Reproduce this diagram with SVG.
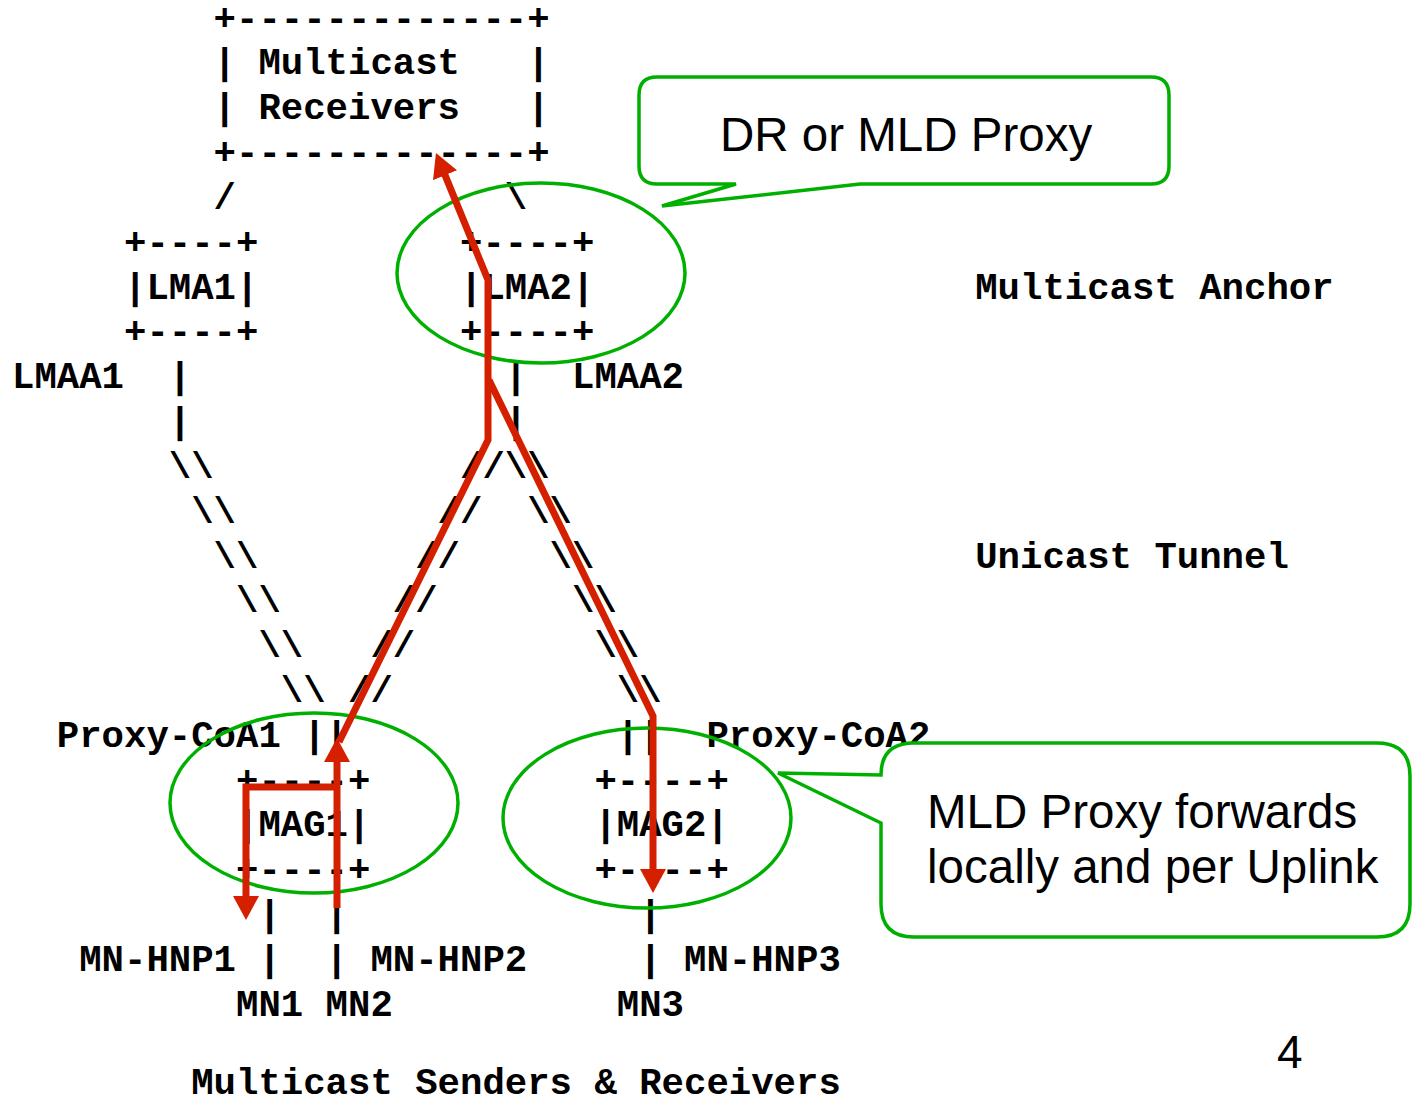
<svg xmlns="http://www.w3.org/2000/svg" width="1418" height="1105" viewBox="0 0 1418 1105" xml:space="preserve">
<style>
.t { font-family: "Liberation Mono", "Courier New", monospace; font-weight: bold; font-size: 37.33px; fill: #000; white-space: pre; }
.s { font-family: "Liberation Mono", "Courier New", monospace; font-weight: bold; font-size: 37.33px; fill: #000; white-space: pre; }
.c { font-family: "Liberation Sans", Arial, sans-serif; font-size: 47.5px; fill: #000; }
.red { fill: none; stroke: #d52000; stroke-width: 7; stroke-linejoin: miter; }
.grn { fill: none; stroke: #00b000; stroke-width: 3.5; }
.call { fill: #fff; stroke: #00b000; stroke-width: 3.5; stroke-linejoin: miter; }
</style>
<defs>
<marker id="ah" viewBox="0 0 24 26" markerWidth="24" markerHeight="26" markerUnits="userSpaceOnUse" refX="2" refY="13" orient="auto">
<path d="M0,0 L24,13 L0,26 z" fill="#d52000"/>
</marker>
</defs>
<rect width="1418" height="1105" fill="#fff"/>

<g id="receivers">
<text class="t" x="213.6" y="29.5">+-------------+</text>
<text class="t" x="213.6" y="74.3">| Multicast   |</text>
<text class="t" x="213.6" y="119.2">| Receivers   |</text>
<text class="t" x="213.6" y="164">+-------------+</text>
</g>

<g id="lma1">
<text class="t" x="124" y="253.7">+----+</text>
<text class="t" x="124" y="298.5">|LMA1|</text>
<text class="t" x="124" y="343.3">+----+</text>
</g>

<g id="lma2">
<text class="t" x="460" y="253.7">+----+</text>
<text class="t" x="460" y="298.5">|LMA2|</text>
<text class="t" x="460" y="343.3">+----+</text>
</g>

<g id="mag1">
<text class="t" x="236" y="791.6">+----+</text>
<text class="t" x="236" y="836.4">|MAG1|</text>
<text class="t" x="236" y="881.3">+----+</text>
</g>

<g id="mag2">
<text class="t" x="594.4" y="791.6">+----+</text>
<text class="t" x="594.4" y="836.4">|MAG2|</text>
<text class="t" x="594.4" y="881.3">+----+</text>
</g>

<g id="labels">
<text class="t" x="975.2" y="298.5">Multicast Anchor</text>
<text class="t" x="12" y="388.1">LMAA1</text>
<text class="t" x="572" y="388.1">LMAA2</text>
<text class="t" x="975.2" y="567.5">Unicast Tunnel</text>
<text class="t" x="56.8" y="746.8">Proxy-CoA1</text>
<text class="t" x="706.4" y="746.8">Proxy-CoA2</text>
<text class="t" x="79.2" y="970.9">MN-HNP1</text>
<text class="t" x="370.4" y="970.9">MN-HNP2</text>
<text class="t" x="684" y="970.9">MN-HNP3</text>
<text class="t" x="236" y="1015.8">MN1</text>
<text class="t" x="325.6" y="1015.8">MN2</text>
<text class="t" x="616.8" y="1015.8">MN3</text>
<text class="t" x="191.2" y="1094">Multicast Senders &amp; Receivers</text>
<text class="c" x="1277" y="1068" style="font-size:46px">4</text>
</g>

<g id="connectors">
<text class="s" x="213.6" y="208.8">/</text>
<text class="s" x="504.8" y="208.8">\</text>
<text class="s" x="168.8" y="388.1">|</text>
<text class="s" x="504.8" y="388.1">|</text>
<text class="s" x="168.8" y="433">|</text>
<text class="s" x="504.8" y="433">|</text>
<text class="s" x="168.8" y="477.8">\\</text>
<text class="s" x="460" y="477.8">//\\</text>
<text class="s" x="191.2" y="522.6">\\</text>
<text class="s" x="437.6" y="522.6">//</text>
<text class="s" x="527.2" y="522.6">\\</text>
<text class="s" x="213.6" y="567.5">\\</text>
<text class="s" x="415.2" y="567.5">//</text>
<text class="s" x="549.6" y="567.5">\\</text>
<text class="s" x="236" y="612.3">\\</text>
<text class="s" x="392.8" y="612.3">//</text>
<text class="s" x="572" y="612.3">\\</text>
<text class="s" x="258.4" y="657.1">\\</text>
<text class="s" x="370.4" y="657.1">//</text>
<text class="s" x="594.4" y="657.1">\\</text>
<text class="s" x="280.8" y="702">\\</text>
<text class="s" x="348" y="702">//</text>
<text class="s" x="616.8" y="702">\\</text>
<text class="s" x="303.2" y="746.8">||</text>
<text class="s" x="616.8" y="746.8">||</text>
<text class="s" x="258.4" y="926.1">|</text>
<text class="s" x="325.6" y="926.1">|</text>
<text class="s" x="639.2" y="926.1">|</text>
<text class="s" x="258.4" y="970.9">|</text>
<text class="s" x="325.6" y="970.9">|</text>
<text class="s" x="639.2" y="970.9">|</text>
</g>

<g id="highlights">
<ellipse class="grn" cx="541" cy="273" rx="144" ry="90"/>
<ellipse class="grn" cx="314" cy="803" rx="144" ry="90"/>
<ellipse class="grn" cx="647" cy="818" rx="144" ry="90"/>
</g>

<g id="flows">
<path class="red" d="M 337 908 L 337 760" marker-end="url(#ah)"/>
<path class="red" d="M 339 742 L 488 440 L 488 280 L 444.3 173.4" marker-end="url(#ah)"/>
<path class="red" d="M 489 380 L 653 716 L 653 871" marker-end="url(#ah)"/>
<path class="red" d="M 337 787 L 246 787 L 246 898" marker-end="url(#ah)"/>
</g>

<g id="callout-dr">
<path class="call" d="M 657 77 H 1151 Q 1169 77 1169 95 V 166 Q 1169 184 1151 184 H 860 L 662 206 L 736 184 H 657 Q 639 184 639 166 V 95 Q 639 77 657 77 Z"/>
<text class="c" x="720" y="151">DR or MLD Proxy</text>
</g>

<g id="callout-mld">
<path class="call" d="M 914 743 H 1377 Q 1410 743 1410 776 V 904 Q 1410 937 1377 937 H 914 Q 881 937 881 904 V 823 L 778 773 L 881 775 Q 881 743 914 743 Z"/>
<text class="c" x="927" y="828">MLD Proxy forwards</text>
<text class="c" x="927" y="883">locally and per Uplink</text>
</g>
</svg>
